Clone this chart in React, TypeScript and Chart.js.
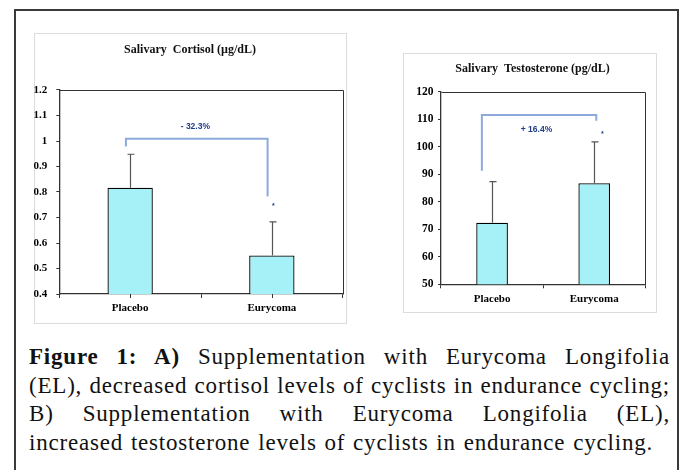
import React, { useEffect, useRef } from "react";
import { Chart, registerables } from "chart.js";

Chart.register(...registerables);

// ---------- data ----------
const categories = ["Placebo", "Eurycoma"];

const cortisolTitle = "Salivary  Cortisol (µg/dL)";
const cortisolMeans = [0.817, 0.551];
const cortisolUpperError = [0.948, 0.683];
const cortisolTickValues = [0.4, 0.5, 0.6, 0.7, 0.8, 0.9, 1, 1.1, 1.2];
const cortisolTickLabels = ["0.4", "0.5", "0.6", "0.7", "0.8", "0.9", "1", "1.1", "1.2"];
const cortisolChangeLabel = "- 32.3%";
const cortisolBracket = [
  [-0.03, 0.978],
  [-0.03, 1.009],
  [0.97, 1.009],
  [0.97, 0.782],
];
const cortisolChangeAt = [0.46, 1.056];
const cortisolStarAt = [1.01, 0.745];

const testosteroneTitle = "Salivary  Testosterone (pg/dL)";
const testosteroneMeans = [72.4, 86.7];
const testosteroneUpperError = [87.3, 101.8];
const testosteroneTickValues = [50, 60, 70, 80, 90, 100, 110, 120];
const testosteroneTickLabels = ["50", "60", "70", "80", "90", "100", "110", "120"];
const testosteroneChangeLabel = "+ 16.4%";
const testosteroneBracket = [
  [-0.1, 91.3],
  [-0.1, 111.5],
  [1.02, 111.5],
  [1.02, 109.4],
];
const testosteroneChangeAt = [0.435, 106.3];
const testosteroneStarAt = [1.08, 104.6];

const captionLines = [
  { bold: "Figure 1: A)", text: " Supplementation with Eurycoma Longifolia", justify: true },
  { bold: "", text: "(EL), decreased cortisol levels of cyclists in endurance cycling;", justify: true },
  { bold: "", text: "B) Supplementation with Eurycoma Longifolia (EL),", justify: true },
  { bold: "", text: "increased testosterone levels of cyclists in endurance cycling.", justify: false },
];

// ---------- styles ----------
const SERIF = '"Liberation Serif", "Times New Roman", serif';
const BAR_FILL = "#a6f1f8";
const AXIS = "#333333";

type PanelCfg = {
  left: number;
  top: number;
  width: number;
  height: number;
  canvasWidth: number;
  title: string;
  means: number[];
  upper: number[];
  tickValues: number[];
  tickLabels: string[];
  changeLabel: string;
  bracket: number[][];
  changeAt: number[];
  starAt: number[];
  barPct: number;
  yWidth: number;
  rightGap: number;
  xHeight: number;
  titleTop: number;
  titleBottom: number;
  xPad: number;
  yPad: number;
  tickFont: number;
  centerTicks: boolean;
};

function makeExtras(cfg: PanelCfg) {
  return {
    id: "extras",
    afterDatasetsDraw(chart: any) {
      const { ctx, chartArea } = chart;
      const xs = chart.scales.x;
      const ys = chart.scales.y;
      ctx.save();
      // plot-area frame (top and right)
      ctx.strokeStyle = AXIS;
      ctx.lineWidth = 1;
      ctx.beginPath();
      ctx.moveTo(Math.round(chartArea.left) + 0.5, Math.round(chartArea.top) + 0.5);
      ctx.lineTo(Math.round(chartArea.right) + 0.5, Math.round(chartArea.top) + 0.5);
      ctx.lineTo(Math.round(chartArea.right) + 0.5, Math.round(chartArea.bottom) + 0.5);
      ctx.stroke();
      // extra ticks at category centres
      if (cfg.centerTicks) {
        ctx.beginPath();
        categories.forEach((_, i) => {
          const x = Math.round(xs.getPixelForValue(i)) + 0.5;
          ctx.moveTo(x, chartArea.bottom);
          ctx.lineTo(x, chartArea.bottom + 4);
        });
        ctx.stroke();
      }
      // error bars (upper only)
      ctx.strokeStyle = "#555555";
      ctx.lineWidth = 1.2;
      cfg.means.forEach((m, i) => {
        const x = Math.round(xs.getPixelForValue(i)) + 0.5;
        const y0 = ys.getPixelForValue(m);
        const y1 = ys.getPixelForValue(cfg.upper[i]);
        ctx.beginPath();
        ctx.moveTo(x, y0);
        ctx.lineTo(x, y1);
        ctx.moveTo(x - 3, y1);
        ctx.lineTo(x + 4, y1);
        ctx.stroke();
      });
      // bracket
      ctx.strokeStyle = "#8eaadc";
      ctx.lineWidth = 2;
      ctx.beginPath();
      cfg.bracket.forEach((p, i) => {
        const x = xs.getPixelForValue(p[0]);
        const y = ys.getPixelForValue(p[1]);
        if (i === 0) ctx.moveTo(x, y);
        else ctx.lineTo(x, y);
      });
      ctx.stroke();
      // labels
      ctx.fillStyle = "#1f3c88";
      ctx.textAlign = "center";
      ctx.textBaseline = "middle";
      ctx.font = 'bold 8.5px "Liberation Sans", Arial, sans-serif';
      ctx.fillText(
        cfg.changeLabel,
        xs.getPixelForValue(cfg.changeAt[0]),
        ys.getPixelForValue(cfg.changeAt[1])
      );
      ctx.font = 'bold 7px "Liberation Sans", Arial, sans-serif';
      ctx.fillText("*", xs.getPixelForValue(cfg.starAt[0]), ys.getPixelForValue(cfg.starAt[1]));
      ctx.restore();
    },
  };
}

function BarPanel({ cfg }: { cfg: PanelCfg }) {
  const ref = useRef<HTMLCanvasElement>(null);
  useEffect(() => {
    if (!ref.current) return;
    const yMin = cfg.tickValues[0];
    const yMax = cfg.tickValues[cfg.tickValues.length - 1];
    const chart = new Chart(ref.current, {
      type: "bar",
      data: {
        labels: categories,
        datasets: [
          {
            data: cfg.means,
            backgroundColor: BAR_FILL,
            borderColor: "#000000",
            borderWidth: 1.3,
            borderSkipped: false,
            barPercentage: cfg.barPct,
            categoryPercentage: 1,
            yAxisID: "y",
          },
        ],
      },
      options: {
        responsive: false,
        animation: false,
        devicePixelRatio: 1,
        layout: { padding: 0 },
        plugins: {
          legend: { display: false },
          tooltip: { enabled: false },
          title: {
            display: true,
            text: cfg.title,
            color: "#111111",
            font: { family: SERIF, weight: "bold", size: 12, lineHeight: 1.2 },
            padding: { top: cfg.titleTop, bottom: cfg.titleBottom },
          },
        },
        scales: {
          x: {
            offset: true,
            grid: {
              display: true,
              drawOnChartArea: false,
              offset: true,
              tickLength: 4,
              color: AXIS,
              lineWidth: 1,
            },
            border: { color: AXIS, width: 1.3 },
            ticks: {
              color: "#000000",
              font: { family: SERIF, weight: "bold", size: 11, lineHeight: 1.2 },
              padding: cfg.xPad,
              maxRotation: 0,
              autoSkip: false,
            },
            afterFit: (s: any) => {
              s.height = cfg.xHeight;
            },
          },
          y: {
            position: "left",
            min: yMin,
            max: yMax,
            afterBuildTicks: (s: any) => {
              s.ticks = cfg.tickValues.map((v) => ({ value: v }));
            },
            grid: {
              display: true,
              drawOnChartArea: false,
              tickLength: 3,
              color: AXIS,
              lineWidth: 1,
            },
            border: { color: AXIS, width: 1.3 },
            ticks: {
              color: "#000000",
              font: { family: SERIF, weight: "bold", size: cfg.tickFont },
              padding: cfg.yPad,
              callback: (v: any) => {
                const idx = cfg.tickValues.findIndex((t) => Math.abs(t - Number(v)) < 1e-9);
                return idx >= 0 ? cfg.tickLabels[idx] : "";
              },
            },
            afterFit: (s: any) => {
              s.width = cfg.yWidth;
            },
          },
          gap: {
            type: "linear",
            position: "right",
            display: true,
            min: 0,
            max: 1,
            grid: { display: false, drawTicks: false },
            border: { display: false },
            ticks: { display: false },
            afterFit: (s: any) => {
              s.width = cfg.rightGap;
            },
          },
        },
      },
      plugins: [makeExtras(cfg)],
    } as any);
    return () => chart.destroy();
  }, [cfg]);

  return (
    <div
      style={{
        position: "absolute",
        left: cfg.left,
        top: cfg.top,
        width: cfg.width,
        height: cfg.height,
        border: "1px solid #dcdcdc",
        boxSizing: "border-box",
      }}
    >
      <canvas
        ref={ref}
        width={cfg.canvasWidth}
        height={cfg.height}
        style={{
          position: "absolute",
          left: -1,
          top: -1,
          width: cfg.canvasWidth,
          height: cfg.height,
        }}
      />
    </div>
  );
}

const leftCfg: PanelCfg = {
  left: 34,
  top: 33,
  width: 313,
  height: 291,
  canvasWidth: 312,
  title: cortisolTitle,
  means: cortisolMeans,
  upper: cortisolUpperError,
  tickValues: cortisolTickValues,
  tickLabels: cortisolTickLabels,
  changeLabel: cortisolChangeLabel,
  bracket: cortisolBracket,
  changeAt: cortisolChangeAt,
  starAt: cortisolStarAt,
  barPct: 0.32,
  yWidth: 25.3,
  rightGap: 3.3,
  xHeight: 30,
  titleTop: 9.8,
  titleBottom: 32.8,
  xPad: 3.4,
  yPad: 9,
  tickFont: 11,
  centerTicks: true,
};

const rightCfg: PanelCfg = {
  left: 403,
  top: 53,
  width: 254,
  height: 260,
  canvasWidth: 259.4,
  title: testosteroneTitle,
  means: testosteroneMeans,
  upper: testosteroneUpperError,
  tickValues: testosteroneTickValues,
  tickLabels: testosteroneTickLabels,
  changeLabel: testosteroneChangeLabel,
  bracket: testosteroneBracket,
  changeAt: testosteroneChangeAt,
  starAt: testosteroneStarAt,
  barPct: 0.31,
  yWidth: 38,
  rightGap: 16.7,
  xHeight: 28.7,
  titleTop: 8.8,
  titleBottom: 15.5,
  xPad: 4.3,
  yPad: 4.5,
  tickFont: 11.5,
  centerTicks: false,
};

export default function App() {
  return (
    <div
      style={{
        position: "fixed",
        left: 0,
        top: 0,
        width: 681,
        height: 470,
        overflow: "hidden",
        background: "#ffffff",
      }}
    >
      <div
        style={{
          position: "absolute",
          left: 14,
          top: 9,
          width: 665,
          height: 480,
          borderTop: "2px solid #3a3a3a",
          borderLeft: "2px solid #3a3a3a",
          borderRight: "2px solid #3a3a3a",
          boxSizing: "border-box",
        }}
      />
      <BarPanel cfg={leftCfg} />
      <BarPanel cfg={rightCfg} />
      <div
        style={{
          position: "absolute",
          left: 29,
          top: 342.8,
          width: 641,
          fontFamily: SERIF,
          fontSize: 23,
          lineHeight: "28.8px",
          letterSpacing: "0.8px",
          color: "#111111",
        }}
      >
        {captionLines.map((l, i) => (
          <div
            key={i}
            style={{
              textAlign: l.justify ? "justify" : "left",
              textAlignLast: l.justify ? "justify" : "left",
              height: 28.8,
              wordSpacing: l.justify ? 0 : "1.3px",
            }}
          >
            {l.bold ? <b>{l.bold}</b> : null}
            {l.text}
          </div>
        ))}
      </div>
    </div>
  );
}
